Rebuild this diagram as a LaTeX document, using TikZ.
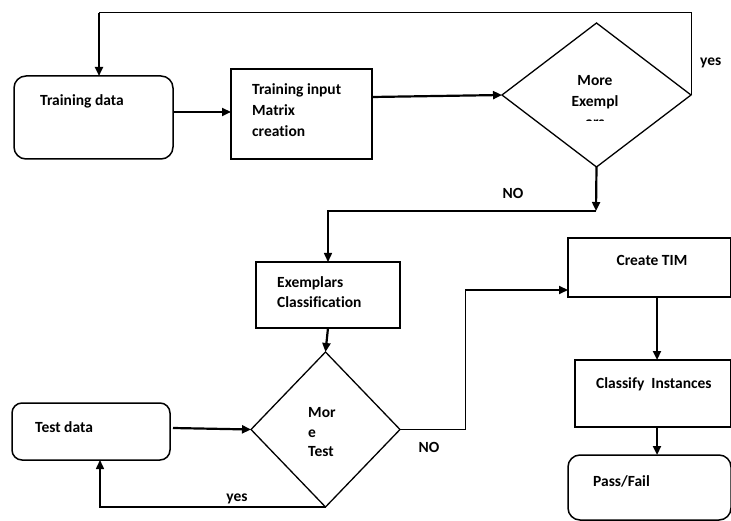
\documentclass[tikz,border=0pt]{standalone}
\usepackage{fontspec}
\setmainfont{Carlito}[Ligatures={NoCommon}]
\usetikzlibrary{shapes.geometric,arrows.meta}
\tikzset{
  box/.style={draw, line width=1.5pt, inner sep=0pt, outer sep=0pt},
  rbox/.style={box, rounded corners=12pt},
  dia/.style={draw, diamond, line width=1.3pt, inner sep=0pt, outer sep=0pt},
  txt/.style={font=\fontsize{15.5}{20}\bfseries, inner sep=0pt, text height=10pt, text depth=0pt},
  thickarrow/.style={line width=2.2pt, -{Triangle[length=9pt,width=8pt]}},
  medarrow/.style={line width=1.5pt, -{Triangle[length=9pt,width=8pt]}},
  thinline/.style={line width=1pt},
  medline/.style={line width=1.4pt}
}
\begin{document}
\begin{tikzpicture}[x=1pt,y=-1pt]
\useasboundingbox[fill=white] (0,0) rectangle (731,521);
% nodes
\node[rbox, minimum width=159pt, minimum height=83pt] (td) at (93.5,117.5) {};
\node[box, minimum width=141pt, minimum height=90pt] (tim) at (301.5,114) {};
\node[dia, minimum width=189pt, minimum height=144pt] (d1) at (596.5,95) {};
\node[box, minimum width=144pt, minimum height=66pt] (ex) at (328,295) {};
\node[dia, minimum width=149pt, minimum height=155pt] (d2) at (325.5,429.5) {};
\node[rbox, rounded corners=10pt, minimum width=158pt, minimum height=57pt] (test) at (91,431.5) {};
\node[box, minimum width=163pt, minimum height=59pt] (ctim) at (649.5,267.5) {};
\node[box, minimum width=156pt, minimum height=67pt] (ci) at (653,393.5) {};
\node[rbox, minimum width=163pt, minimum height=65pt] (pf) at (649.5,487.5) {};
% texts
\node[txt, anchor=west] (tdt) at (40,101) {Training data};
\node[txt, anchor=west] (tim1) at (252,90) {Training input};
\node[txt, anchor=west] (tim2) at (252,111) {Matrix};
\node[txt, anchor=west] (tim3) at (252,132) {creation};
\node[txt] (d1a) at (595,81) {More};
\node[txt] (d1b) at (595,102) {Exempl};
\begin{scope}
\clip (540,110) rectangle (650,121);
\node[txt] (d1c) at (595,123) {ars};
\end{scope}
\node[txt, anchor=west] (ex1) at (277,283) {Exemplars};
\node[txt, anchor=west] (ex2) at (277,303) {Classification};
\node[txt, anchor=west] (d2a) at (308,412) {Mor};
\node[txt, anchor=west] (d2b) at (308,432) {e};
\node[txt, anchor=west] (d2c) at (308,451) {Test};
\node[txt, anchor=west] (testt) at (35,427) {Test data};
\node[txt] (ctimt) at (652,261) {Create TIM};
\node[txt, anchor=west] (cit) at (596,383) {Classify\ \ Instances};
\node[txt, anchor=west] (pft) at (593,481) {Pass/Fail};
\node[txt, anchor=west] (yes1) at (700,61) {yes};
\node[txt] (no1) at (513,194) {NO};
\node[txt] (no2) at (429,447) {NO};
\node[txt] (yes2) at (237,496) {yes};
% connectors
\coordinate (loopT) at (99,13);
\draw[thinline] (d1.east) |- (loopT);
\draw[thickarrow] (loopT) -- (loopT |- td.north);
\draw[thickarrow] (td.east |- 0,112) -- (tim.west |- 0,112);
\draw[thickarrow] (tim.east |- 0,97) -- (d1.west);
\coordinate (c1) at (596,211);
\draw[thickarrow] (d1.south) -- (c1);
\draw[medarrow] (c1) -| (ex.north);
\draw[thickarrow] (ex.south) -- (d2.north);
\draw[thickarrow] ([xshift=3pt]test.east |- 0,428) -- (d2.west);
\draw[medarrow] (d2.south) -| ([xshift=9pt]test.south);
\coordinate (c2) at (465,290);
\draw[thinline] (d2.east) -| (c2);
\draw[thickarrow] (c2) -- (ctim.west |- c2);
\draw[thickarrow] (ctim.south -| 657,0) -- (ci.north -| 657,0);
\draw[thickarrow] (ci.south -| 657,0) -- (pf.north -| 657,0);
\end{tikzpicture}
\end{document}
